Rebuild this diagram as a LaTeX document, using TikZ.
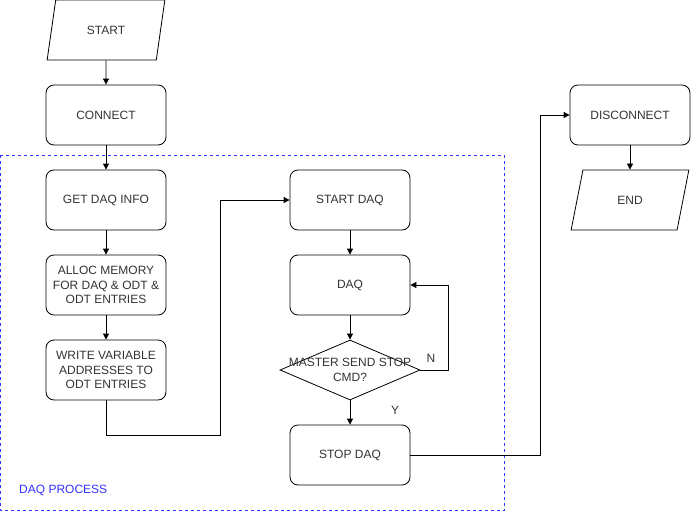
\documentclass[tikz,border=0pt]{standalone}
\usepackage{fontspec}
\setmainfont{Liberation Sans}
\usetikzlibrary{shapes.geometric,arrows.meta}
\definecolor{txt}{HTML}{333333}
\definecolor{grp}{HTML}{3333FF}
\begin{document}
\begin{tikzpicture}[x=1pt,y=-1pt,font=\fontsize{12}{14.4}\selectfont,
  box/.style={draw, rounded corners=8pt, minimum width=120pt, minimum height=60pt, align=center, inner sep=0pt, text=txt, line width=0.8pt},
  io/.style={draw, trapezium, trapezium left angle=69, trapezium right angle=111, trapezium stretches=true, minimum width=118pt, minimum height=60pt, inner sep=0pt, text=txt, line width=0.8pt},
  dec/.style={draw, diamond, minimum width=140pt, minimum height=60pt, inner sep=0pt, line width=0.8pt},
  arr/.style={-{Triangle[length=6pt,width=6pt]}, line width=0.8pt},
  lbl/.style={text=txt, inner sep=0pt}
]
\useasboundingbox (0,0) rectangle (691,511);
\draw[grp, dash pattern=on 3pt off 3pt, line width=0.8pt] (0.5,155) rectangle (504,510.5);
\node[text=grp, anchor=west, inner sep=0pt] (grplbl) at (19,490) {DAQ PROCESS};

\node[io] (start) at (106,30) {START};
\node[box] (connect) at (106,115) {CONNECT};
\node[box] (info) at (106,200) {GET DAQ INFO};
\node[box] (alloc) at (106,285) {ALLOC MEMORY\\FOR DAQ \& ODT \&\\ODT ENTRIES};
\node[box] (write) at (106,370) {WRITE VARIABLE\\ADDRESSES TO\\ODT ENTRIES};
\node[box] (sdaq) at (350,200) {START DAQ};
\node[box] (daq) at (350,285) {DAQ};
\node[dec] (stop) at (350,370) {};
\node[lbl, align=center] (stoptxt) at (350,370) {MASTER SEND STOP\\CMD?};
\node[box] (stopdaq) at (350,455) {STOP DAQ};
\node[box] (disc) at (630,115) {DISCONNECT};
\node[io] (end) at (630,200) {END};

\draw[arr] (start) -- (connect);
\draw[arr] (connect) -- (info);
\draw[arr] (info) -- (alloc);
\draw[arr] (alloc) -- (write);
\draw[arr] (write.south) -- (106,435) -- (220,435) -- (220,200) -- (sdaq.west);
\draw[arr] (sdaq) -- (daq);
\draw[arr] (daq) -- (stop);
\draw[arr] (stop.east) -- (448,370) -- (448,285) -- (daq.east);
\draw[arr] (stop.south) -- (stopdaq.north);
\draw[arr] (stopdaq.east) -- (540,455) -- (540,115) -- (disc.west);
\draw[arr] (disc) -- (end);
\node[lbl] (nlbl) at (431,358) {N};
\node[lbl] (ylbl) at (395,410) {Y};
\end{tikzpicture}
\end{document}
